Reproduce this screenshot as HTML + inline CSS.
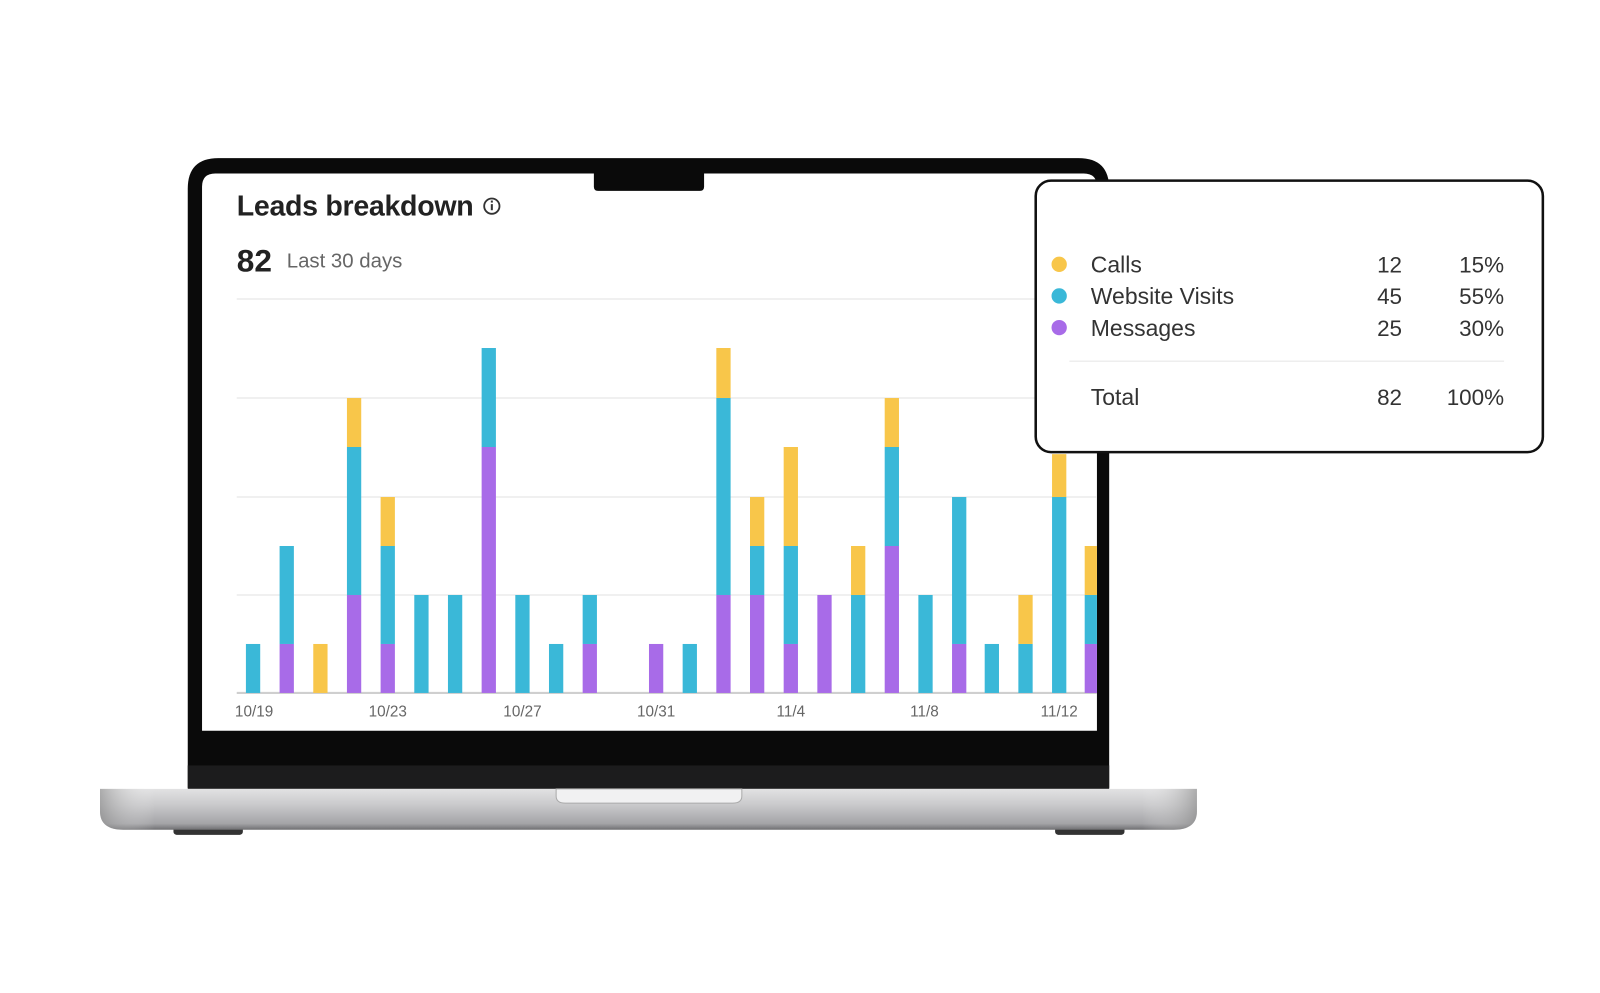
<!DOCTYPE html>
<html><head><meta charset="utf-8"><style>
html,body{margin:0;padding:0;background:#fff;}
svg{display:block}
text{font-family:"Liberation Sans",sans-serif}
</style></head><body>
<svg width="1600" height="993" viewBox="0 0 1568 973" preserveAspectRatio="none" xmlns="http://www.w3.org/2000/svg">
<defs>
<linearGradient id="base" x1="0" y1="0" x2="0" y2="1">
<stop offset="0" stop-color="#e2e2e3"/><stop offset="0.4" stop-color="#c9c9cb"/><stop offset="0.85" stop-color="#a4a4a7"/><stop offset="1" stop-color="#6f6f72"/>
</linearGradient>
<linearGradient id="baseH" x1="0" y1="0" x2="1" y2="0">
<stop offset="0" stop-color="#888" stop-opacity=".6"/><stop offset="0.05" stop-color="#fff" stop-opacity="0"/><stop offset="0.95" stop-color="#fff" stop-opacity="0"/><stop offset="1" stop-color="#888" stop-opacity=".6"/>
</linearGradient>
</defs>
<path d="M184 772 L184 185 Q184 155 214 155 L1057 155 Q1087 155 1087 185 L1087 772 Z" fill="#0a0a0a"/>
<rect x="184" y="750" width="903" height="23" fill="#1c1c1d"/>
<path d="M198 716 L198 183 Q198 170 211 170 L1062 170 Q1075 170 1075 183 L1075 716 Z" fill="#fff"/>
<path d="M582 170 L690 170 L690 183 Q690 187 686 187 L586 187 Q582 187 582 183 Z" fill="#0a0a0a"/>
<rect x="170" y="810" width="68" height="8" rx="3" fill="#333"/>
<rect x="1034" y="810" width="68" height="8" rx="3" fill="#333"/>
<path d="M98 773 L1173 773 L1173 795 Q1173 813 1150 813 L121 813 Q98 813 98 795 Z" fill="url(#base)"/>
<path d="M98 773 L1173 773 L1173 795 Q1173 813 1150 813 L121 813 Q98 813 98 795 Z" fill="url(#baseH)"/>
<path d="M545 773 L727 773 L727 780 Q727 787 718 787 L554 787 Q545 787 545 780 Z" fill="#f1f1f2" stroke="#aaa" stroke-width="1"/>
<text x="232" y="211" font-size="28" font-weight="bold" fill="#222" letter-spacing="-0.3">Leads breakdown</text>
<circle cx="482" cy="202" r="7.5" fill="none" stroke="#333" stroke-width="1.8"/>
<rect x="481" y="200" width="2" height="6" fill="#333"/><rect x="481" y="196.5" width="2" height="2" fill="#333"/>
<text x="232" y="266" font-size="31" font-weight="bold" fill="#222">82</text>
<text x="281" y="262" font-size="20" fill="#666">Last 30 days</text>
<g stroke="#ececec" stroke-width="1.5">
<line x1="232" y1="293" x2="1075" y2="293"/>
<line x1="232" y1="390" x2="1075" y2="390"/>
<line x1="232" y1="487" x2="1075" y2="487"/>
<line x1="232" y1="583" x2="1075" y2="583"/>
</g>
<line x1="232" y1="679" x2="1075" y2="679" stroke="#cfcfcf" stroke-width="2"/>
<g>
<rect x="241" y="631" width="14" height="48" fill="#3ab8d8"/>
<rect x="274" y="631" width="14" height="48" fill="#a86be8"/><rect x="274" y="535" width="14" height="96" fill="#3ab8d8"/>
<rect x="307" y="631" width="14" height="48" fill="#f8c64a"/>
<rect x="340" y="583" width="14" height="96" fill="#a86be8"/><rect x="340" y="438" width="14" height="145" fill="#3ab8d8"/><rect x="340" y="390" width="14" height="48" fill="#f8c64a"/>
<rect x="373" y="631" width="14" height="48" fill="#a86be8"/><rect x="373" y="535" width="14" height="96" fill="#3ab8d8"/><rect x="373" y="487" width="14" height="48" fill="#f8c64a"/>
<rect x="406" y="583" width="14" height="96" fill="#3ab8d8"/>
<rect x="439" y="583" width="14" height="96" fill="#3ab8d8"/>
<rect x="472" y="438" width="14" height="241" fill="#a86be8"/><rect x="472" y="341" width="14" height="97" fill="#3ab8d8"/>
<rect x="505" y="583" width="14" height="96" fill="#3ab8d8"/>
<rect x="538" y="631" width="14" height="48" fill="#3ab8d8"/>
<rect x="571" y="631" width="14" height="48" fill="#a86be8"/><rect x="571" y="583" width="14" height="48" fill="#3ab8d8"/>
<rect x="636" y="631" width="14" height="48" fill="#a86be8"/>
<rect x="669" y="631" width="14" height="48" fill="#3ab8d8"/>
<rect x="702" y="583" width="14" height="96" fill="#a86be8"/><rect x="702" y="390" width="14" height="193" fill="#3ab8d8"/><rect x="702" y="341" width="14" height="49" fill="#f8c64a"/>
<rect x="735" y="583" width="14" height="96" fill="#a86be8"/><rect x="735" y="535" width="14" height="48" fill="#3ab8d8"/><rect x="735" y="487" width="14" height="48" fill="#f8c64a"/>
<rect x="768" y="631" width="14" height="48" fill="#a86be8"/><rect x="768" y="535" width="14" height="96" fill="#3ab8d8"/><rect x="768" y="438" width="14" height="97" fill="#f8c64a"/>
<rect x="801" y="583" width="14" height="96" fill="#a86be8"/>
<rect x="834" y="583" width="14" height="96" fill="#3ab8d8"/><rect x="834" y="535" width="14" height="48" fill="#f8c64a"/>
<rect x="867" y="535" width="14" height="144" fill="#a86be8"/><rect x="867" y="438" width="14" height="97" fill="#3ab8d8"/><rect x="867" y="390" width="14" height="48" fill="#f8c64a"/>
<rect x="900" y="583" width="14" height="96" fill="#3ab8d8"/>
<rect x="933" y="631" width="14" height="48" fill="#a86be8"/><rect x="933" y="487" width="14" height="144" fill="#3ab8d8"/>
<rect x="965" y="631" width="14" height="48" fill="#3ab8d8"/>
<rect x="998" y="631" width="14" height="48" fill="#3ab8d8"/><rect x="998" y="583" width="14" height="48" fill="#f8c64a"/>
<rect x="1031" y="487" width="14" height="192" fill="#3ab8d8"/><rect x="1031" y="445" width="14" height="42" fill="#f8c64a"/>
<rect x="1063" y="631" width="12" height="48" fill="#a86be8"/><rect x="1063" y="583" width="12" height="48" fill="#3ab8d8"/><rect x="1063" y="535" width="12" height="48" fill="#f8c64a"/>
</g>
<g font-size="15" fill="#666" text-anchor="middle">
<text x="249" y="702">10/19</text><text x="380" y="702">10/23</text><text x="512" y="702">10/27</text>
<text x="643" y="702">10/31</text><text x="775" y="702">11/4</text><text x="906" y="702">11/8</text><text x="1038" y="702">11/12</text>
</g>
<rect x="1015" y="177" width="497" height="266" rx="15" fill="#fff" stroke="#111" stroke-width="2.5"/>
<circle cx="1038" cy="259" r="7.5" fill="#f8c64a"/>
<circle cx="1038" cy="290" r="7.5" fill="#3ab8d8"/>
<circle cx="1038" cy="321" r="7.5" fill="#a86be8"/>
<g font-size="22.5" fill="#333">
<text x="1069" y="267">Calls</text><text x="1069" y="298">Website Visits</text><text x="1069" y="329">Messages</text>
<text x="1069" y="397">Total</text>
</g>
<g font-size="22" fill="#333" text-anchor="end">
<text x="1374" y="267">12</text><text x="1374" y="298">45</text><text x="1374" y="329">25</text><text x="1374" y="397">82</text>
<text x="1474" y="267">15%</text><text x="1474" y="298">55%</text><text x="1474" y="329">30%</text><text x="1474" y="397">100%</text>
</g>
<line x1="1048" y1="354" x2="1474" y2="354" stroke="#eee" stroke-width="1.5"/>
</svg>
</body></html>
